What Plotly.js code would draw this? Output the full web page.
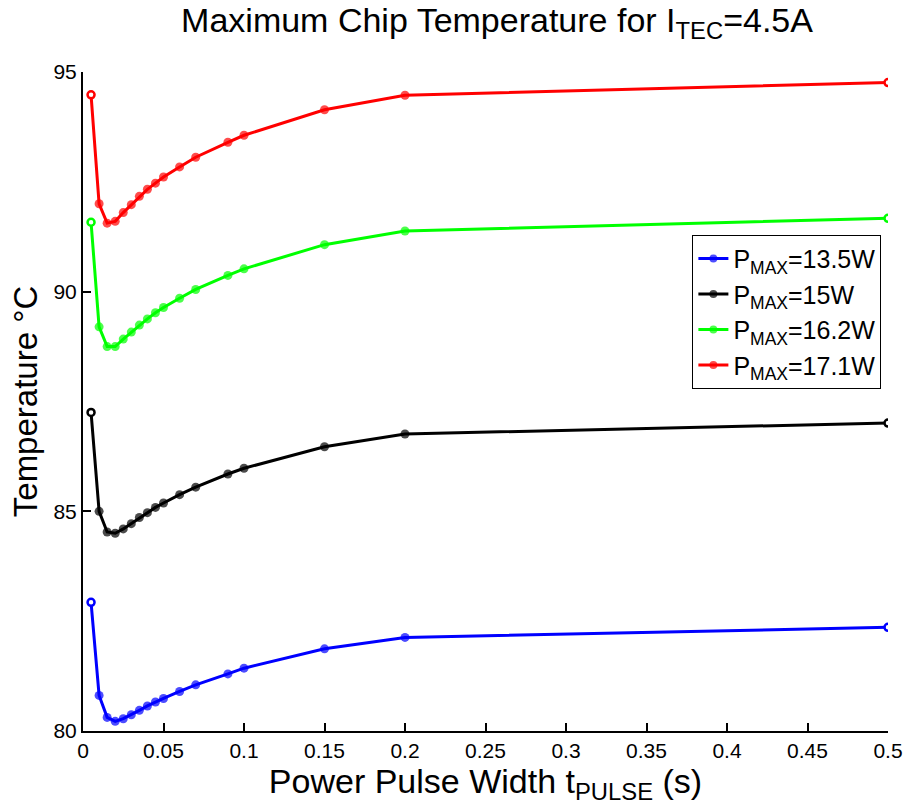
<!DOCTYPE html>
<html>
<head>
<meta charset="utf-8">
<script src="https://cdn.plot.ly/plotly-3.0.1.min.js"></script>
<style>html,body{margin:0;padding:0;background:#fff;}#chart{width:907px;height:809px;}</style>
</head>
<body>
<div id="chart"></div>
<script>
// Pulse widths (s)
const pulseWidth = [0.005, 0.01, 0.015, 0.02, 0.025, 0.03, 0.035, 0.04, 0.045, 0.05, 0.06, 0.07, 0.09, 0.1, 0.15, 0.2, 0.5];

// Max chip temperature (°C) per series
const temp135 = [82.93, 80.81, 80.31, 80.22, 80.28, 80.37, 80.47, 80.57, 80.66, 80.74, 80.90, 81.05, 81.30, 81.43, 81.87, 82.13, 82.36];
const temp150 = [87.25, 85.00, 84.53, 84.50, 84.60, 84.72, 84.86, 84.97, 85.09, 85.19, 85.38, 85.55, 85.85, 85.98, 86.47, 86.76, 87.01];
const temp162 = [91.58, 89.20, 88.75, 88.75, 88.92, 89.08, 89.24, 89.38, 89.52, 89.64, 89.85, 90.05, 90.37, 90.52, 91.07, 91.38, 91.67];
const temp171 = [94.48, 92.00, 91.56, 91.60, 91.80, 91.98, 92.17, 92.33, 92.47, 92.61, 92.84, 93.06, 93.40, 93.56, 94.14, 94.47, 94.76];

const seriesNames = ["P<sub>MAX</sub>=13.5W", "P<sub>MAX</sub>=15W", "P<sub>MAX</sub>=16.2W", "P<sub>MAX</sub>=17.1W"];
const seriesColors = ["#0000ff", "#000000", "#00ff00", "#ff0000"];
const seriesValues = [temp135, temp150, temp162, temp171];

const xTicks = [0, 0.05, 0.1, 0.15, 0.2, 0.25, 0.3, 0.35, 0.4, 0.45, 0.5];
const yTicks = [80, 85, 90, 95];

const traces = [];
seriesValues.forEach((vals, i) => {
  const n = vals.length;
  const sizes = vals.map((v, k) => (k === 0 || k === n - 1) ? 0 : 9);
  traces.push({
    x: pulseWidth, y: vals, type: "scatter", mode: "lines+markers",
    name: seriesNames[i],
    line: {color: seriesColors[i], width: 3},
    marker: {symbol: "circle", color: seriesColors[i], size: sizes, line: {width: 0}}
  });
  traces.push({
    x: [pulseWidth[0], pulseWidth[n - 1]], y: [vals[0], vals[n - 1]],
    type: "scatter", mode: "markers", showlegend: false,
    marker: {symbol: "circle", color: "#ffffff", size: 7, line: {color: seriesColors[i], width: 2.5}}
  });
});

const font = "Liberation Sans, Arial, sans-serif";
const layout = {
  width: 907, height: 809,
  margin: {l: 83, r: 19, t: 72, b: 78},
  paper_bgcolor: "#fff", plot_bgcolor: "#fff",
  font: {family: font, color: "#000", size: 21},
  title: {text: "Maximum Chip Temperature for I<sub>TEC</sub>=4.5A", font: {size: 34, family: font},
          x: 0.548, xanchor: "center", y: 0.975, yref: "container", yanchor: "middle"},
  xaxis: {
    range: [0, 0.5], tickvals: xTicks, ticktext: xTicks.map(String),
    showline: true, linecolor: "#000", linewidth: 2, mirror: false,
    ticks: "inside", ticklen: 8, tickwidth: 2, tickcolor: "#000",
    showgrid: false, zeroline: false,
    tickfont: {size: 21}, ticklabelstandoff: 0,
    title: {text: "Power Pulse Width t<sub>PULSE</sub> (s)", font: {size: 34}, standoff: 2}
  },
  yaxis: {
    range: [80, 95], tickvals: yTicks, ticktext: yTicks.map(String),
    showline: true, linecolor: "#000", linewidth: 2, mirror: false,
    ticks: "inside", ticklen: 8, tickwidth: 2, tickcolor: "#000",
    showgrid: false, zeroline: false,
    tickfont: {size: 21},
    title: {text: "Temperature °C", font: {size: 33}, standoff: 6}
  },
  legend: {
    x: 0.757, y: 0.753, xanchor: "left", yanchor: "top",
    bgcolor: "#fff", bordercolor: "#000", borderwidth: 1,
    font: {size: 25, family: font}, tracegroupgap: 0, itemwidth: 30
  },
  showlegend: true
};

Plotly.newPlot("chart", traces, layout, {displayModeBar: false, staticPlot: true});
</script>
</body>
</html>
